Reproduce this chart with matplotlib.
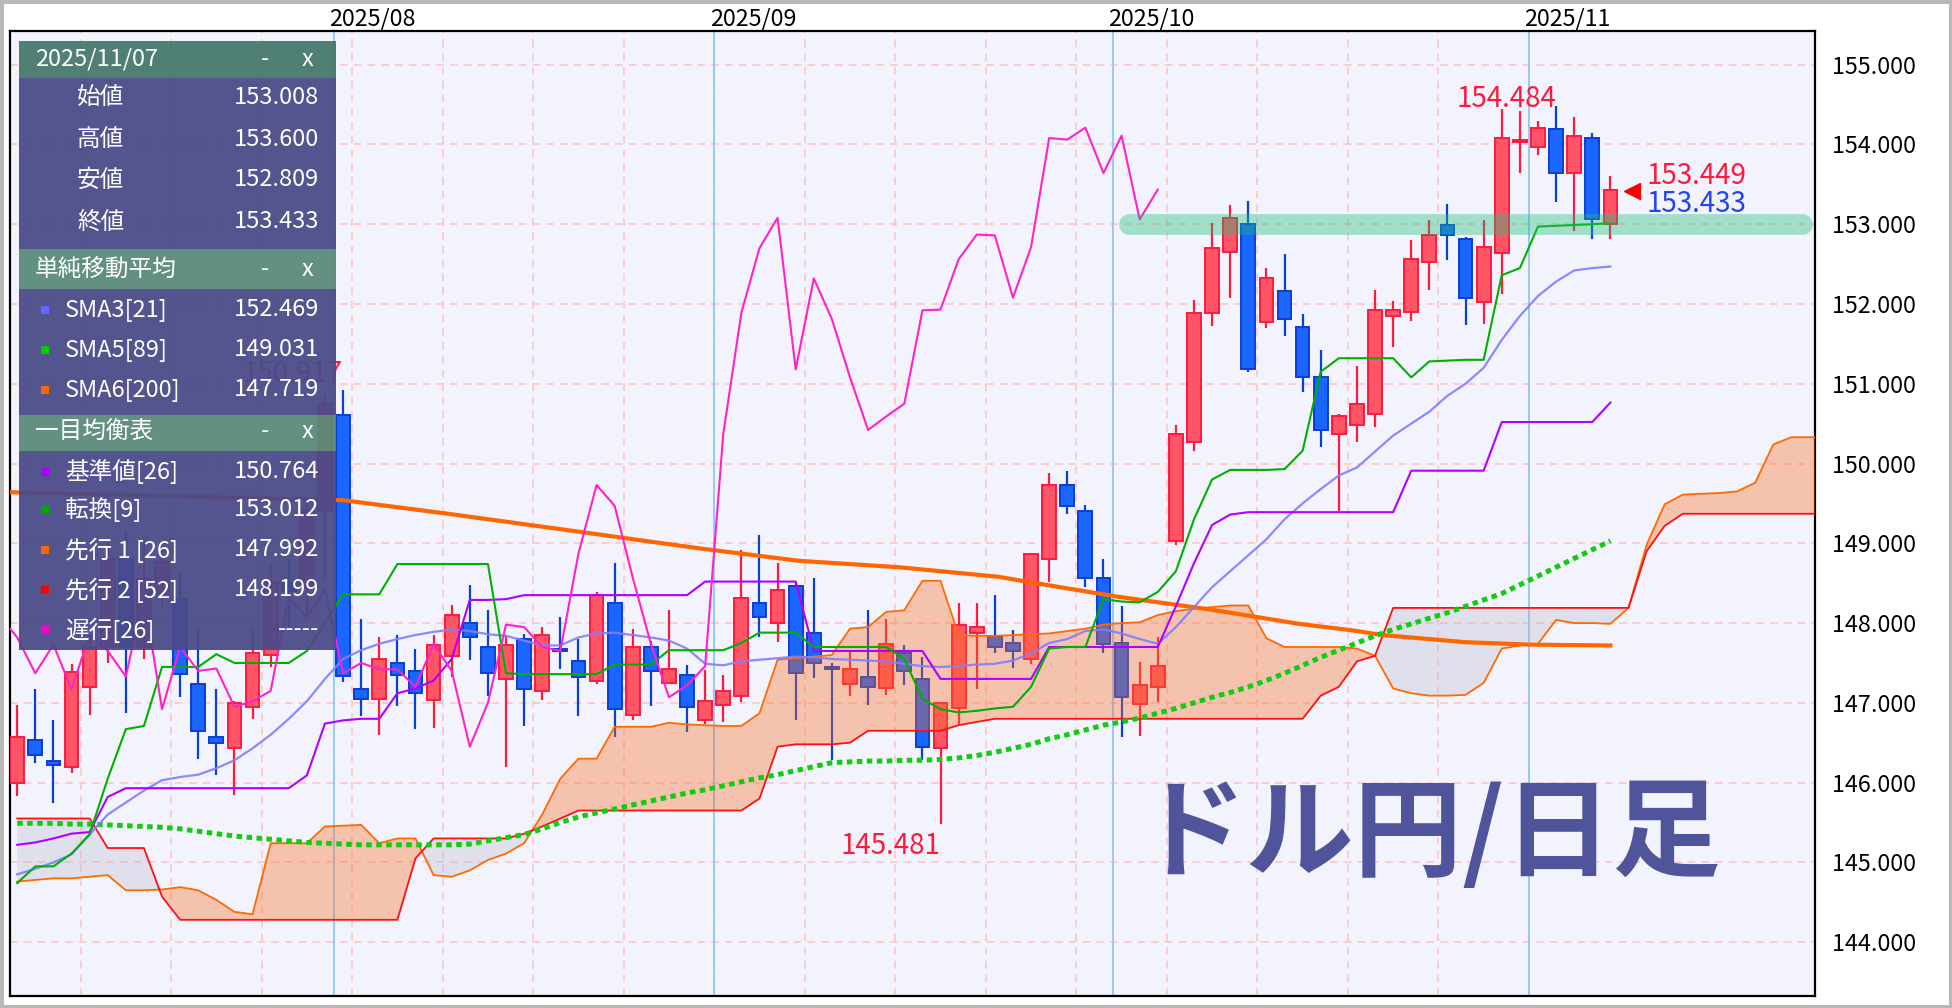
import numpy as np
import matplotlib.pyplot as plt
from matplotlib.patches import Rectangle

plt.rcParams['font.family'] = ['Noto Sans CJK JP', 'DejaVu Sans']

# daily bars: index 0 = 2025/08/01, -18 = 2025/07/08, 70 = 2025/11/07
first_idx = -18
opens = [146.00, 146.54, 146.27, 146.20, 147.20, 147.70, 148.80, 147.70, 148.36, 148.30,
         147.23, 146.57, 146.43, 146.95, 147.60, 148.50, 148.45, 149.40, 150.61, 147.17,
         147.05, 147.50, 147.40, 147.04, 147.59, 148.00, 147.70, 147.30, 147.80, 147.15,
         147.68, 147.53, 147.27, 148.25, 146.85, 147.70, 147.25, 147.35, 146.79, 146.97,
         147.09, 148.25, 148.00, 148.47, 147.88, 147.45, 147.24, 147.33, 147.18, 147.62,
         147.30, 146.43, 146.93, 147.88, 147.84, 147.75, 147.55, 148.80, 149.73, 149.40,
         148.57, 147.75, 146.99, 147.20, 149.03, 150.27, 151.89, 152.65, 153.00, 151.78,
         152.16, 151.71, 151.08, 150.37, 150.48, 150.62, 151.85, 151.90, 152.53, 152.99,
         152.81, 152.03, 152.64, 154.03, 153.97, 154.19, 153.64, 154.08, 153.008]
highs = [146.97, 147.17, 146.78, 147.49, 147.85, 149.00, 149.15, 149.05, 149.00, 148.63,
         147.92, 147.17, 147.02, 147.92, 148.75, 148.80, 149.55, 150.85, 150.917, 148.05,
         147.82, 147.85, 147.68, 147.85, 148.23, 148.48, 148.16, 147.85, 147.86, 147.95,
         148.08, 147.80, 148.39, 148.75, 147.93, 147.78, 148.16, 147.48, 147.41, 147.35,
         148.91, 149.11, 148.75, 148.50, 148.56, 147.50, 147.64, 148.16, 148.05, 147.73,
         147.58, 147.00, 148.25, 148.25, 148.35, 147.91, 148.87, 149.88, 149.91, 149.48,
         148.80, 148.22, 147.51, 147.82, 150.48, 152.05, 153.01, 153.24, 153.29, 152.45,
         152.63, 151.87, 151.42, 150.62, 151.22, 152.17, 152.04, 152.80, 153.05, 153.25,
         152.84, 153.05, 154.45, 154.42, 154.29, 154.484, 154.35, 154.14, 153.600]
lows = [145.83, 146.24, 145.74, 146.12, 146.85, 147.50, 146.87, 147.55, 148.20, 147.07,
        146.30, 146.10, 145.85, 146.80, 147.45, 147.90, 148.05, 148.55, 147.26, 146.84,
        146.60, 146.96, 146.67, 146.69, 147.33, 147.54, 147.08, 146.19, 146.71, 147.04,
        147.42, 146.84, 147.24, 146.57, 146.78, 146.96, 147.24, 146.64, 146.74, 146.76,
        147.01, 147.82, 147.76, 146.78, 147.31, 146.28, 147.08, 146.97, 147.10, 147.22,
        146.28, 145.481, 146.74, 147.17, 147.62, 147.44, 147.49, 148.51, 149.37, 148.45,
        147.62, 146.57, 146.58, 147.01, 148.98, 150.16, 151.73, 152.08, 151.15, 151.70,
        151.60, 150.90, 150.21, 149.40, 150.27, 150.46, 151.46, 151.79, 152.17, 152.55,
        151.74, 151.75, 152.12, 153.64, 153.87, 153.28, 152.92, 152.81, 152.809]
closes = [146.57, 146.34, 146.22, 147.39, 147.70, 148.80, 147.70, 148.55, 148.77, 147.36,
          146.65, 146.50, 147.00, 147.62, 148.52, 148.40, 149.40, 150.75, 147.34, 147.05,
          147.55, 147.35, 147.12, 147.72, 148.10, 147.82, 147.37, 147.73, 147.17, 147.85,
          147.65, 147.33, 148.35, 146.92, 147.70, 147.40, 147.43, 146.95, 147.02, 147.15,
          148.32, 148.07, 148.42, 147.37, 147.50, 147.42, 147.42, 147.20, 147.74, 147.40,
          146.45, 147.00, 147.98, 147.95, 147.70, 147.65, 148.87, 149.73, 149.47, 148.57,
          147.74, 147.07, 147.22, 147.46, 150.37, 151.89, 152.70, 153.08, 151.18, 152.32,
          151.81, 151.08, 150.42, 150.59, 150.75, 151.92, 151.93, 152.56, 152.87, 152.86,
          152.08, 152.71, 154.08, 154.06, 154.21, 153.64, 154.11, 153.06, 153.433]

sma21 = [144.85, 144.92, 145.00, 145.10, 145.35, 145.60, 145.75, 145.90, 146.03, 146.07,
         146.10, 146.18, 146.28, 146.43, 146.60, 146.80, 147.02, 147.30, 147.55, 147.66,
         147.74, 147.80, 147.85, 147.89, 147.92, 147.90, 147.86, 147.84, 147.78, 147.72,
         147.72, 147.82, 147.87, 147.88, 147.85, 147.82, 147.78, 147.68, 147.49, 147.47,
         147.52, 147.54, 147.56, 147.58, 147.57, 147.55, 147.54, 147.53, 147.52, 147.49,
         147.46, 147.45, 147.46, 147.48, 147.49, 147.53, 147.62, 147.75, 147.80, 147.90,
         147.92, 147.87, 147.80, 147.74, 147.95, 148.20, 148.45, 148.65, 148.85, 149.05,
         149.30, 149.50, 149.68, 149.85, 149.95, 150.15, 150.35, 150.50, 150.65, 150.85,
         151.00, 151.20, 151.55, 151.85, 152.10, 152.28, 152.42, 152.45, 152.469]
sma89 = [145.49, 145.49, 145.49, 145.48, 145.48, 145.47, 145.46, 145.45, 145.44, 145.42,
         145.39, 145.36, 145.33, 145.31, 145.29, 145.27, 145.25, 145.24, 145.23, 145.22,
         145.22, 145.22, 145.22, 145.22, 145.22, 145.23, 145.27, 145.31, 145.35, 145.42,
         145.50, 145.57, 145.62, 145.67, 145.72, 145.77, 145.82, 145.87, 145.91, 145.96,
         146.01, 146.06, 146.10, 146.15, 146.20, 146.25, 146.26, 146.27, 146.27, 146.28,
         146.28, 146.29, 146.31, 146.34, 146.38, 146.43, 146.48, 146.55, 146.60, 146.66,
         146.72, 146.76, 146.81, 146.87, 146.93, 147.00, 147.07, 147.13, 147.20, 147.28,
         147.37, 147.47, 147.57, 147.66, 147.75, 147.84, 147.92, 147.99, 148.06, 148.13,
         148.21, 148.29, 148.37, 148.48, 148.59, 148.70, 148.81, 148.92, 149.031]
# sma200 read at these bar positions
sma200_x = [-18.4, 0, 5.8, 13.2, 17, 19.9, 25.2, 30.7, 36.2, 38, 42.8, 47.9, 52.8, 55.7, 57.4, 62, 65.5, 70]
sma200_y = [149.64, 149.54, 149.37, 149.14, 149.02, 148.93, 148.78, 148.70, 148.58, 148.51,
            148.33, 148.17, 147.99, 147.91, 147.85, 147.76, 147.73, 147.719]

tenkan = [144.74, 144.95, 144.95, 145.11, 145.35, 146.05, 146.67, 146.71, 147.45, 147.45,
          147.45, 147.61, 147.50, 147.50, 147.50, 147.50, 147.65, 148.00, 148.36, 148.36,
          148.36, 148.74, 148.74, 148.74, 148.74, 148.74, 148.74, 147.37, 147.36, 147.36,
          147.36, 147.36, 147.36, 147.48, 147.48, 147.48, 147.66, 147.66, 147.66, 147.66,
          147.75, 147.88, 147.88, 147.88, 147.70, 147.70, 147.70, 147.70, 147.70, 147.55,
          147.05, 146.92, 146.88, 146.90, 146.93, 146.95, 147.20, 147.68, 147.70, 147.70,
          148.30, 148.27, 148.26, 148.39, 148.65, 149.30, 149.80, 149.92, 149.92, 149.92,
          149.93, 150.16, 151.15, 151.32, 151.32, 151.32, 151.32, 151.08, 151.28, 151.29,
          151.30, 151.30, 152.36, 152.45, 152.97, 152.98, 152.99, 153.00, 153.012]
kijun = ([145.22, 145.25, 145.30, 145.36, 145.38, 145.82] + [145.93] * 10 +
         [146.09, 146.74, 146.78, 146.80, 146.80, 147.12, 147.18, 147.28, 147.55,
          148.29, 148.29, 148.30] + [148.35] * 10 + [148.52] * 6 + [147.65] * 7 +
         [147.30] * 6 + [147.70] * 7 + [148.21, 148.75, 149.23, 149.36] +
         [149.39] * 9 + [149.91] * 5 + [150.52] * 6 + [150.764])

# leading spans, bars -18 .. 82
span_a = [144.76, 144.78, 144.80, 144.80, 144.82, 144.84, 144.65, 144.65, 144.66, 144.69,
          144.65, 144.53, 144.38, 144.35, 145.24, 145.24, 145.24, 145.45, 145.46, 145.47,
          145.24, 145.30, 145.30, 144.84, 144.82, 144.90, 145.03, 145.11, 145.24, 145.60,
          146.05, 146.30, 146.30, 146.70, 146.70, 146.70, 146.75, 146.73, 146.72, 146.71,
          146.71, 146.87, 147.54, 147.56, 147.58, 147.60, 147.93, 147.95, 148.14, 148.16,
          148.53, 148.53, 147.85, 147.84, 147.84, 147.85, 147.86, 147.87, 147.90, 147.93,
          147.98, 148.00, 148.01, 148.10, 148.15, 148.18, 148.20, 148.22, 148.22, 147.81,
          147.70, 147.70, 147.70, 147.70, 147.68, 147.59, 147.18, 147.12, 147.09, 147.09,
          147.10, 147.25, 147.68, 147.72, 147.74, 148.04, 148.00, 148.00, 147.99, 148.19,
          148.98, 149.49, 149.61, 149.62, 149.63, 149.65, 149.76, 150.24, 150.33, 150.33, 150.33]
span_b = ([145.55] * 5 + [145.18] * 3 + [144.57] + [144.28] * 13 + [145.05] +
          [145.30] * 5 + [145.36, 145.45, 145.55] + [145.65] * 10 + [145.80, 146.45] +
          [146.48] * 3 + [146.50] + [146.65] * 5 + [146.72, 146.76] + [146.80] * 18 +
          [147.09, 147.20, 147.52, 147.59] + [148.19] * 14 + [148.90, 149.22] + [149.37] * 9)
chikou_shift = 25

month_pos = [-0.5, 20.5, 42.5, 65.5]
month_labels = ['2025/08', '2025/09', '2025/10', '2025/11']
week_pos = [-14.5, -9.5, -4.5, 0.5, 5.5, 10.5, 15.5, 20.5, 25.5, 30.5, 35.5, 40.5, 45.5,
            50.5, 55.5, 60.5, 65.5]
yticks = [144, 145, 146, 147, 148, 149, 150, 151, 152, 153, 154, 155]

idx = np.arange(first_idx, first_idx + len(opens))
o, h, l, c = map(np.array, (opens, highs, lows, closes))
span_x = np.arange(first_idx, first_idx + len(span_a))
a = np.array(span_a)
b = np.array(span_b)

fig = plt.figure(figsize=(19.52, 10.08), dpi=100)
ax = fig.add_axes([0.0051, 0.0123, 0.9247, 0.9568])
ax.set_facecolor('#f3f3fd')
ax.set_xlim(-18.4, 81.3)
ax.set_ylim(143.33, 155.42)

# grid
for y in yticks:
    ax.axhline(y, color='#ffc2c2', lw=1.1, ls=(0, (5, 4)), zorder=1)
for x in week_pos:
    ax.axvline(x, color='#ffc2c2', lw=1.1, ls=(0, (5, 4)), zorder=1)
for x in month_pos:
    ax.axvline(x, color='#8cc8f5', lw=1.3, zorder=1.5)

# candles
up = c >= o
wick_col = np.where(up, '#ff1a3c', '#0a3fd4')
face_col = np.where(up, '#ff5566', '#1a66ff')
ax.vlines(idx, l, h, colors=wick_col, lw=1.6, zorder=2)
body_h = np.maximum(np.abs(c - o), 0.02)
ax.bar(idx, body_h, bottom=np.minimum(o, c), width=0.76, color=face_col,
       edgecolor=wick_col, linewidth=1.4, zorder=3)

# cloud
ax.fill_between(span_x, a, b, where=a >= b, interpolate=True,
                color=(0.985, 0.435, 0.12), alpha=0.36, lw=0, zorder=4)
ax.fill_between(span_x, a, b, where=a < b, interpolate=True,
                color='#b9b9c9', alpha=0.32, lw=0, zorder=4)
ax.plot(span_x, a, color='#ff6a00', lw=1.3, zorder=5)
ax.plot(span_x, b, color='#ff1010', lw=1.3, zorder=5)

# moving averages and ichimoku lines
ax.plot(sma200_x, sma200_y, color='#ff6600', lw=3.0, zorder=5)
ax.plot(idx, sma89, color='#11cc11', lw=3.6, ls=(0, (1.1, 0.9)), zorder=5)
ax.plot(idx, sma21, color='#7f7fff', lw=1.6, alpha=0.9, zorder=5)
ax.plot(idx, kijun, color='#b000ff', lw=1.5, zorder=5)
ax.plot(idx, tenkan, color='#00b000', lw=1.5, zorder=5)
ax.plot(idx - chikou_shift, c, color='#ff22cc', lw=1.5, zorder=5)

# horizontal band at 153
ax.plot([43.4, 80.6], [153.0, 153.0], color=(0.12, 0.75, 0.47), alpha=0.38,
        lw=15, solid_capstyle='round', zorder=6)

# high / low labels
hi = int(np.argmax(h[idx >= 10])) + 10 - first_idx
lo = int(np.argmin(l))
ax.text(idx[hi], h[hi] + 0.08, f'{h[hi]:.3f}', color='#ff1a3c', fontsize=20,
        ha='right', va='center', zorder=7)
ax.text(idx[lo], l[lo] - 0.28, f'{l[lo]:.3f}', color='#ff1a3c', fontsize=20,
        ha='right', va='center', zorder=7)
ax.text(0, 150.917 + 0.2, '150.917', color='#ff1a3c', fontsize=20,
        ha='right', va='center', zorder=7)

# current price marker
ax.plot(71.2, 153.42, marker='<', ms=12, color='#ff0000', zorder=7, clip_on=False)
ax.text(72.0, 153.61, '153.449', color='#ff1a3c', fontsize=20, ha='left', va='center', zorder=7)
ax.text(72.0, 153.25, '153.433', color='#2244ee', fontsize=20, ha='left', va='center', zorder=7)

# watermark title
ax.text(60.0, 145.32, 'ドル円/日足', color='#50559b', fontsize=78, fontweight='bold',
        ha='center', va='center', zorder=6)

# axes styling
ax.set_xticks([])
ax.yaxis.tick_right()
ax.set_yticks(yticks)
ax.set_yticklabels([f'{v:.3f}' for v in yticks], fontsize=16.8)
ax.tick_params(axis='y', length=0, pad=12)
for s in ax.spines.values():
    s.set_color('black')
    s.set_linewidth(1.6)
for x, lab in zip(month_pos, month_labels):
    ax.text(x - 0.25, 1.013, lab, transform=ax.get_xaxis_transform(), fontsize=16.8,
            ha='left', va='center')

# info panel (pixel coordinates)
leg = fig.add_axes([19 / 1952, 1 - 650 / 1008, 317 / 1952, 609 / 1008])
leg.set_xlim(0, 317)
leg.set_ylim(609, 0)
leg.axis('off')
leg.set_zorder(10)
sections = [(0, 37, '#46786a'), (37, 171, '#4a4a88'), (208, 40, '#5a8a78'),
            (248, 126, '#4a4a88'), (374, 36, '#5a8a78'), (410, 199, '#4a4a88')]
for y0, hh, col in sections:
    leg.add_patch(Rectangle((0, y0), 317, hh, color=col, alpha=0.94, lw=0))

fs = 17
for y, t in [(18, '2025/11/07'), (228, '単純移動平均'), (391, '一目均衡表')]:
    leg.text(16, y, t, color='white', fontsize=fs, va='center', ha='left')
    leg.text(246, y, '-', color='white', fontsize=fs, va='center', ha='center')
    leg.text(289, y, 'x', color='white', fontsize=fs, va='center', ha='center')

ohlc_rows = [('始値', '153.008'), ('高値', '153.600'), ('安値', '152.809'), ('終値', '153.433')]
for y, (lab, val) in zip([57, 98, 139, 181], ohlc_rows):
    leg.text(58, y, lab, color='white', fontsize=fs, va='center', ha='left')
    leg.text(300, y, val, color='white', fontsize=fs, va='center', ha='right')

ind_rows = [(269, '#6666ff', 'SMA3[21]', '152.469'),
            (309, '#00cc00', 'SMA5[89]', '149.031'),
            (349, '#ff6600', 'SMA6[200]', '147.719'),
            (431, '#aa00ff', '基準値[26]', '150.764'),
            (469, '#00aa00', '転換[9]', '153.012'),
            (509, '#ff6600', '先行 1 [26]', '147.992'),
            (549, '#ff0000', '先行 2 [52]', '148.199'),
            (589, '#ff00cc', '遅行[26]', '-----')]
for y, col, lab, val in ind_rows:
    leg.add_patch(Rectangle((22, y - 4), 8, 8, color=col, lw=0))
    leg.text(46, y, lab, color='white', fontsize=fs, va='center', ha='left')
    leg.text(300, y, val, color='white', fontsize=fs, va='center', ha='right')

# light grey frame round the picture
fig.patches.append(Rectangle((0, 0), 1, 1, transform=fig.transFigure, fill=False,
                             edgecolor='#b8b8b8', lw=5))

fig.savefig('out.png', dpi=100)
